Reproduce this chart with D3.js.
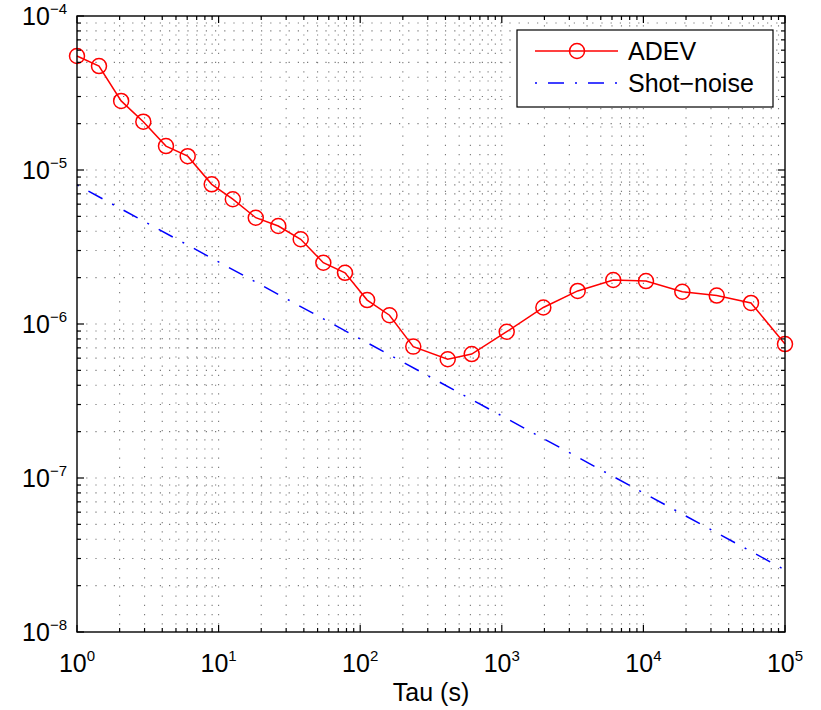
<!DOCTYPE html>
<html>
<head>
<meta charset="utf-8">
<script src="https://cdn.jsdelivr.net/npm/d3@7"></script>
<style>
  html, body { margin: 0; padding: 0; background: #fff; }
  svg { display: block; font-family: "Liberation Sans", Arial, Helvetica, sans-serif; }
</style>
</head>
<body>
<svg id="chart" width="821" height="710"></svg>
<script>
// Averaging times (s) and measured Allan deviation
const tau = [1.0, 1.43, 2.05, 2.94, 4.25, 6.05, 8.94, 12.6, 18.3, 26.4, 38.0, 54.9, 78.1,
             112, 161, 237, 415, 613, 1083, 1965, 3435, 6126, 10430, 18830, 32950, 57540, 100000];
const adev = [5.50e-5, 4.73e-5, 2.81e-5, 2.06e-5, 1.43e-5, 1.23e-5, 8.07e-6, 6.46e-6, 4.90e-6,
              4.33e-6, 3.55e-6, 2.50e-6, 2.15e-6, 1.43e-6, 1.14e-6, 7.13e-7, 5.90e-7, 6.38e-7,
              8.91e-7, 1.28e-6, 1.64e-6, 1.93e-6, 1.90e-6, 1.62e-6, 1.53e-6, 1.37e-6, 7.41e-7];

// Shot-noise limit (slope -1/2 on log-log axes)
const tauShot = [1, 10, 100, 1000, 10000, 100000];
const shotNoise = [8.0e-6, 2.53e-6, 8.0e-7, 2.53e-7, 8.0e-8, 2.53e-8];

// Axis ticks
const xTickExp = [0, 1, 2, 3, 4, 5];
const yTickExp = [-4, -5, -6, -7, -8];

const seriesNames = ["ADEV", "Shot\u2212noise"];
const xLabel = "Tau (s)";

const margin = { left: 77, top: 16, right: 36, bottom: 78 };
const W = 821, H = 710;
const iw = W - margin.left - margin.right;
const ih = H - margin.top - margin.bottom;

const svg = d3.select("#chart");
const g = svg.append("g").attr("transform", `translate(${margin.left},${margin.top})`);

const x = d3.scaleLog().domain([1, 1e5]).range([0, iw]);
const y = d3.scaleLog().domain([1e-8, 1e-4]).range([ih, 0]);

// all major + minor positions inside the domain
function logPositions(lo, hi) {
  const out = [];
  for (let e = lo; e < hi; e++) {
    for (let k = 1; k <= 9; k++) out.push({ v: k * Math.pow(10, e), major: k === 1 });
  }
  out.push({ v: Math.pow(10, hi), major: true });
  return out;
}
const xPos = logPositions(0, 5);
const yPos = logPositions(-8, -4);

// dotted grid
const grid = g.append("g")
  .attr("stroke", "#222")
  .attr("stroke-width", 1.1)
  .attr("stroke-dasharray", "1.2,8")
  .attr("opacity", 0.6);
grid.selectAll("line.vx").data(xPos.filter(d => d.v > 1 && d.v < 1e5)).join("line")
  .attr("x1", d => x(d.v)).attr("x2", d => x(d.v))
  .attr("y1", 0).attr("y2", ih);
grid.selectAll("line.hy").data(yPos.filter(d => d.v > 1e-8 && d.v < 1e-4)).join("line")
  .attr("y1", d => y(d.v)).attr("y2", d => y(d.v))
  .attr("x1", 0).attr("x2", iw);

// shot-noise line
const line = d3.line().x(d => x(d[0])).y(d => y(d[1]));
g.append("path")
  .datum(tauShot.map((t, i) => [t, shotNoise[i]]))
  .attr("d", line)
  .attr("fill", "none")
  .attr("stroke", "#0000ff")
  .attr("stroke-width", 1.5)
  .attr("stroke-dasharray", "2,11,16,11");

// ADEV line + circle markers
const adevPts = tau.map((t, i) => [t, adev[i]]);
g.append("path")
  .datum(adevPts)
  .attr("d", line)
  .attr("fill", "none")
  .attr("stroke", "#ff0000")
  .attr("stroke-width", 1.5);
g.selectAll("circle.m").data(adevPts).join("circle")
  .attr("cx", d => x(d[0])).attr("cy", d => y(d[1]))
  .attr("r", 7.5)
  .attr("fill", "none")
  .attr("stroke", "#ff0000")
  .attr("stroke-width", 1.5);

// axes box
g.append("rect")
  .attr("x", 0).attr("y", 0).attr("width", iw).attr("height", ih)
  .attr("fill", "none").attr("stroke", "#000").attr("stroke-width", 1.4);

// inward ticks on all four sides
const ticks = g.append("g").attr("stroke", "#000").attr("stroke-width", 1.2);
const tl = d => d.major ? 7 : 4;
ticks.selectAll("line.tb").data(xPos).join("line")
  .attr("x1", d => x(d.v)).attr("x2", d => x(d.v)).attr("y1", ih).attr("y2", d => ih - tl(d));
ticks.selectAll("line.tt").data(xPos).join("line")
  .attr("x1", d => x(d.v)).attr("x2", d => x(d.v)).attr("y1", 0).attr("y2", d => tl(d));
ticks.selectAll("line.tl").data(yPos).join("line")
  .attr("y1", d => y(d.v)).attr("y2", d => y(d.v)).attr("x1", 0).attr("x2", d => tl(d));
ticks.selectAll("line.tr").data(yPos).join("line")
  .attr("y1", d => y(d.v)).attr("y2", d => y(d.v)).attr("x1", iw).attr("x2", d => iw - tl(d));

// tick labels as 10^n
function expLabel(sel, e) {
  sel.append("tspan").text("10");
  sel.append("tspan").attr("font-size", 15).attr("dy", -11)
    .text(e < 0 ? "\u2212" + (-e) : String(e));
}
g.selectAll("text.xl").data(xTickExp).join("text")
  .attr("x", e => x(Math.pow(10, e)))
  .attr("y", ih + 40)
  .attr("text-anchor", "middle")
  .attr("font-size", 25)
  .attr("fill", "#000")
  .each(function (e) { expLabel(d3.select(this), e); });
g.selectAll("text.yl").data(yTickExp).join("text")
  .attr("x", -10)
  .attr("y", e => y(Math.pow(10, e)) + 9)
  .attr("text-anchor", "end")
  .attr("font-size", 25)
  .attr("fill", "#000")
  .each(function (e) { expLabel(d3.select(this), e); });

// x-axis title
g.append("text")
  .attr("x", iw / 2).attr("y", ih + 69)
  .attr("text-anchor", "middle")
  .attr("font-size", 25)
  .text(xLabel);

// legend
const lg = g.append("g").attr("transform", `translate(${517 - margin.left},${30 - margin.top})`);
lg.append("rect").attr("width", 256).attr("height", 77)
  .attr("fill", "#fff").attr("stroke", "#000").attr("stroke-width", 1.2);
lg.append("line").attr("x1", 18).attr("x2", 101).attr("y1", 21).attr("y2", 21)
  .attr("stroke", "#ff0000").attr("stroke-width", 1.5);
lg.append("circle").attr("cx", 60).attr("cy", 21).attr("r", 7.5)
  .attr("fill", "none").attr("stroke", "#ff0000").attr("stroke-width", 1.5);
lg.append("line").attr("x1", 18).attr("x2", 101).attr("y1", 53).attr("y2", 53)
  .attr("stroke", "#0000ff").attr("stroke-width", 1.5).attr("stroke-dasharray", "2,11,16,11");
lg.selectAll("text").data(seriesNames).join("text")
  .attr("x", 111).attr("y", (d, i) => 30 + i * 32)
  .attr("font-size", 25)
  .text(d => d);
</script>
</body>
</html>
